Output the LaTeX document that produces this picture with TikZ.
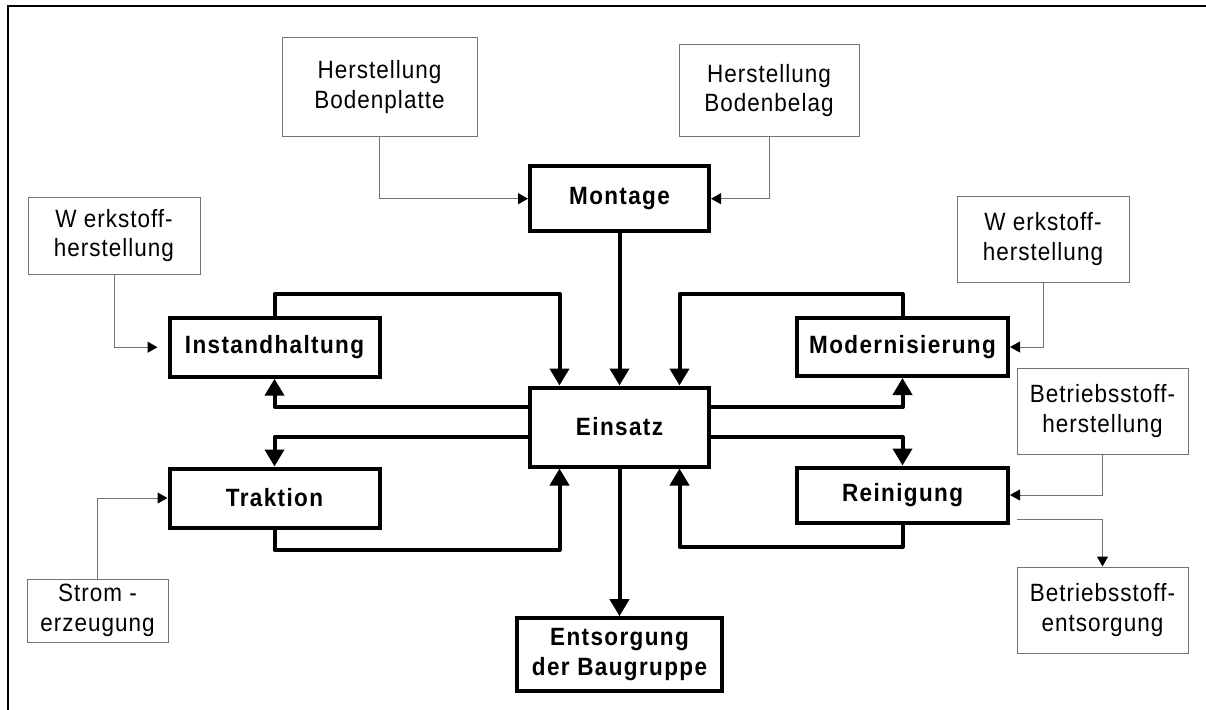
\documentclass[tikz,border=0pt]{standalone}
\usepackage{fontspec}
\setmainfont{Liberation Sans}[FakeStretch=0.9, LetterSpace=4, BoldFeatures={LetterSpace=5.5}]
\usetikzlibrary{arrows.meta,calc}
\tikzset{
  thinbox/.style={draw=black!55, line width=1pt, inner sep=2pt, align=center,
    font=\fontsize{25}{29.5}\selectfont},
  thickbox/.style={draw=black, line width=4pt, inner sep=2pt, align=center,
    font=\fontsize{25}{30}\selectfont\bfseries},
  thickarrow/.style={draw=black, line width=4pt, line join=round,
    -{Triangle[length=17pt,width=19pt]}},
  thinarrow/.style={draw=black!55, line width=1pt,
    -{Triangle[length=10pt,width=11pt,color=black]}},
  frameline/.style={draw=black, line width=2.5pt}
}
\begin{document}
\begin{tikzpicture}[x=1pt,y=-1pt]
\fill[white] (0,0) rectangle (1206,709);
\useasboundingbox (0,0) rectangle (1206,709);
\draw[frameline] (8,712) -- (8,6) -- (1209,6);

\coordinate (ytop) at (0,294);
\coordinate (ybotL) at (0,550);
\coordinate (ybotR) at (0,547);

\node[thinbox, minimum width=195, minimum height=98] (bp) at (379.5,87) {Herstellung\\Bodenplatte};
\node[thinbox, minimum width=180, minimum height=91] (bb) at (769,90.5) {Herstellung\\Bodenbelag};
\node[thickbox, minimum width=179, minimum height=65] (mon) at (619.5,198.7) {Montage};
\node[thickbox, minimum width=179, minimum height=79] (ein) at (619.5,427) {Einsatz};
\node[thickbox, minimum width=210, minimum height=59] (inst) at (274.5,347.2) {Instandhaltung};
\node[thickbox, minimum width=210, minimum height=59] (trak) at (274.5,498) {Traktion};
\node[thickbox, minimum width=211, minimum height=58] (mod) at (902.5,347) {Modernisierung};
\node[thickbox, minimum width=211, minimum height=55] (rein) at (902.5,495) {Reinigung};
\node[thickbox, minimum width=205, minimum height=73] (ent) at (619.5,654.7) {Entsorgung\\der Baugruppe};
\node[thinbox, minimum width=172, minimum height=77] (wl) at (114,235.5) {W erkstoff-\\herstellung};
\node[thinbox, minimum width=172, minimum height=86] (wr) at (1043,239) {W erkstoff-\\herstellung};
\node[thinbox, minimum width=141, minimum height=63] (strom) at (97.5,610.5) {Strom -\\erzeugung};
\node[thinbox, minimum width=171, minimum height=86] (bh) at (1102.5,411) {Betriebsstoff-\\herstellung};
\node[thinbox, minimum width=171, minimum height=86] (be) at (1102.5,610) {Betriebsstoff-\\entsorgung};

% thin supply connectors
\draw[thinarrow] (bp.south) |- (mon.west);
\draw[thinarrow] (bb.south) |- (mon.east);
\draw[thinarrow, shorten >=10pt] (wl.south) |- (inst.west);
\draw[thinarrow] (strom.north) |- (trak.west);
\draw[thinarrow] (wr.south) |- (mod.east);
\draw[thinarrow] (bh.south) |- (rein.east);
\coordinate (rs) at (1017,519);
\draw[thinarrow] (rs) -| (be.north);

% thick flow connectors
\draw[thickarrow] (mon.south) -- (ein.north);
\draw[thickarrow] (ein.south) -- (ent.north);
\draw[thickarrow] (inst.north) -- (inst.north |- ytop) -| ([xshift=-60pt]ein.north);
\draw[thickarrow] ([yshift=20pt]ein.west) -| (inst.south);
\draw[thickarrow] ([yshift=-10pt]ein.west) -| (trak.north);
\draw[thickarrow] (trak.south) -- (trak.south |- ybotL) -| ([xshift=-60pt]ein.south);
\draw[thickarrow] (mod.north) -- (mod.north |- ytop) -| ([xshift=60pt]ein.north);
\draw[thickarrow] ([yshift=20pt]ein.east) -| (mod.south);
\draw[thickarrow] ([yshift=-10pt]ein.east) -| (rein.north);
\draw[thickarrow] (rein.south) -- (rein.south |- ybotR) -| ([xshift=60pt]ein.south);
\end{tikzpicture}
\end{document}
